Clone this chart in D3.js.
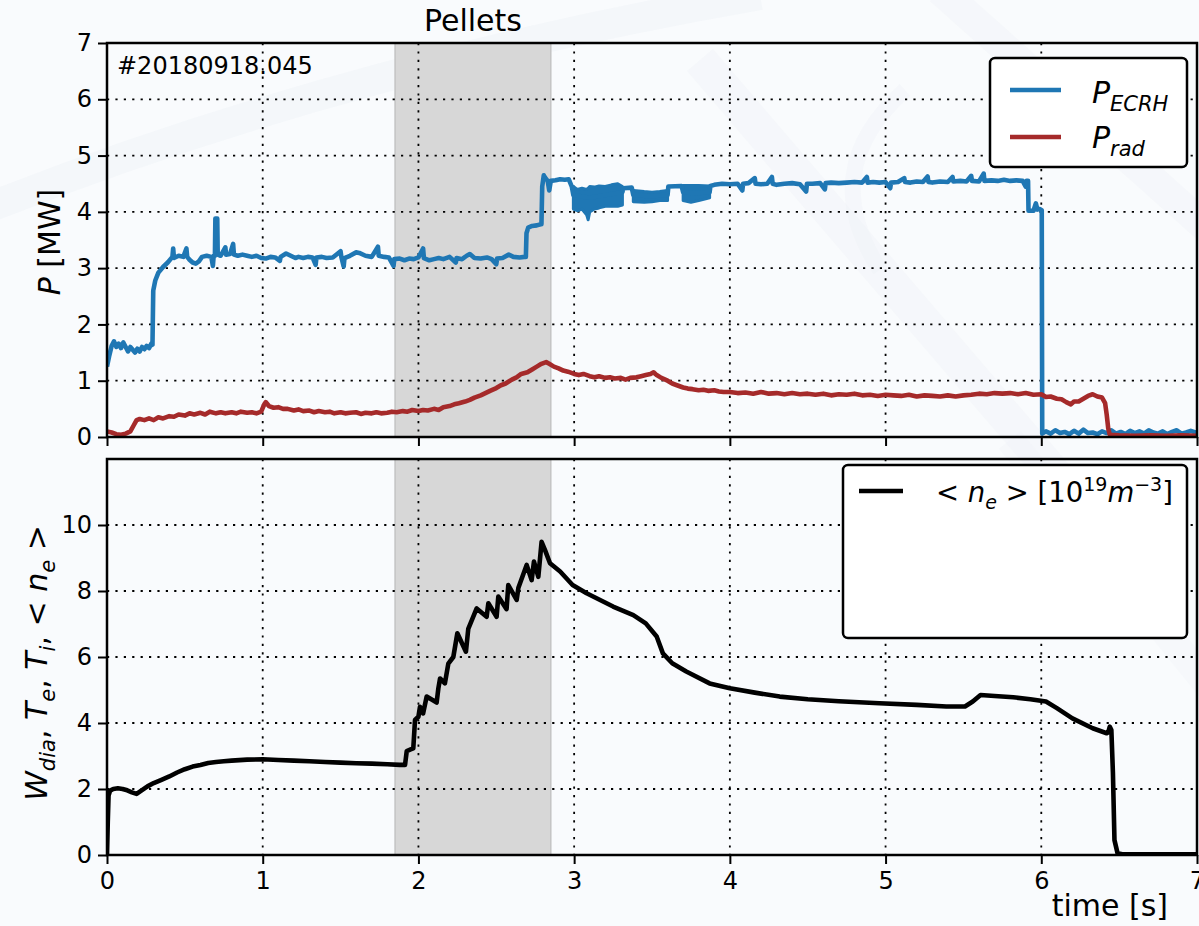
<!DOCTYPE html>
<html>
<head>
<meta charset="utf-8">
<script src="https://cdn.jsdelivr.net/npm/d3@7/dist/d3.min.js"></script>
<style>
  html, body { margin: 0; padding: 0; background: #f9fbfd; }
  svg { display: block; }
  text { font-family: "DejaVu Sans", sans-serif; fill: #000; }
</style>
</head>
<body>
<svg id="chart" width="1199" height="926"></svg>
<script>
// ---------------- data ----------------
// Heating power P_ECRH [MW]
const ecrhTime = [0,0.015,0.03,0.045,0.06,0.075,0.09,0.105,0.12,0.135,0.15,0.165,0.18,0.195,0.21,0.225,0.24,0.255,0.27,0.285,0.292,
  0.297,0.31,0.33,0.36,0.39,0.42,0.425,0.43,0.46,0.49,0.51,0.515,0.53,0.55,0.57,0.59,0.61,0.64,0.67,0.68,0.685,0.693,
  0.696,0.708,0.711,0.73,0.76,0.765,0.79,0.81,0.815,0.84,0.87,0.9,0.93,0.96,0.99,1.02,1.05,1.08,1.11,1.115,1.15,1.18,
  1.21,1.23,1.26,1.29,1.32,1.34,1.345,1.38,1.41,1.45,1.5,1.505,1.52,1.525,1.56,1.6,1.62,1.66,1.7,1.74,1.745,1.78,1.81,
  1.84,1.845,1.88,1.91,1.94,1.97,2.0,2.03,2.035,2.07,2.1,2.13,2.16,2.2,2.24,2.245,2.28,2.31,2.33,2.36,2.4,2.44,2.47,
  2.5,2.505,2.54,2.58,2.61,2.65,2.68,2.69,2.694,2.705,2.73,2.76,2.785,2.79,2.795,2.805,2.815,2.83,2.84,2.85,2.88,2.91,
  2.94,2.965,2.985,2.995,3.1,3.2,3.31,3.315,3.37,3.38,3.49,3.6,3.605,3.69,3.7,3.78,3.87,3.875,3.9,3.95,4.0,4.05,4.08,
  4.085,4.12,4.16,4.165,4.2,4.24,4.27,4.275,4.3,4.35,4.4,4.45,4.49,4.495,4.53,4.58,4.61,4.615,4.65,4.7,4.75,4.8,4.85,
  4.88,4.885,4.92,4.96,5.0,5.03,5.035,5.08,5.12,5.125,5.16,5.2,5.24,5.27,5.275,5.3,5.35,5.4,5.43,5.435,5.48,5.52,5.55,
  5.555,5.6,5.63,5.635,5.68,5.72,5.76,5.8,5.84,5.88,5.9,5.905,5.915,5.918,5.95,5.965,5.975,5.99,6.003,
  6.006,6.03,6.06,6.09,6.12,6.15,6.18,6.21,6.24,6.27,6.3,6.33,6.36,6.39,6.42,6.45,6.48,6.51,6.54,6.57,6.6,6.63,6.66,
  6.69,6.72,6.75,6.78,6.81,6.84,6.87,6.9,6.93,6.96,7.0];
const ecrhPower = [1.25,1.45,1.62,1.7,1.6,1.66,1.58,1.68,1.6,1.52,1.6,1.55,1.5,1.57,1.52,1.6,1.56,1.62,1.58,1.66,1.64,
  2.6,2.78,2.92,3.02,3.1,3.2,3.35,3.18,3.22,3.2,3.35,3.2,3.15,3.1,3.08,3.12,3.2,3.22,3.2,3.04,3.22,3.22,
  3.88,3.88,3.24,3.22,3.37,3.24,3.25,3.43,3.24,3.22,3.24,3.22,3.2,3.22,3.18,3.17,3.2,3.19,3.13,3.2,3.26,3.22,
  3.18,3.2,3.18,3.2,3.19,3.06,3.19,3.2,3.18,3.19,3.3,3.2,3.03,3.18,3.22,3.28,3.27,3.22,3.2,3.38,3.22,3.2,3.19,
  3.04,3.16,3.17,3.14,3.17,3.16,3.19,3.35,3.18,3.14,3.16,3.18,3.16,3.2,3.1,3.18,3.16,3.22,3.25,3.18,3.17,3.19,3.16,
  3.07,3.17,3.18,3.24,3.2,3.19,3.2,3.2,3.62,3.72,3.75,3.76,3.78,3.78,4.45,4.65,4.6,4.55,4.38,4.55,4.56,4.58,
  4.57,4.58,4.45,4.3,4.25,4.3,4.35,4.42,4.43,4.3,4.28,4.3,4.45,4.46,4.35,4.33,4.35,4.46,4.48,4.5,4.49,4.5,4.38,
  4.5,4.51,4.6,4.5,4.49,4.5,4.62,4.5,4.48,4.5,4.51,4.49,4.36,4.5,4.5,4.51,4.4,4.51,4.52,4.51,4.52,4.53,4.52,
  4.62,4.52,4.53,4.52,4.53,4.42,4.52,4.53,4.6,4.53,4.52,4.54,4.53,4.63,4.53,4.52,4.54,4.53,4.62,4.54,4.55,4.54,4.64,
  4.55,4.54,4.68,4.55,4.56,4.55,4.57,4.55,4.56,4.55,4.45,4.55,4.55,4.02,4.02,4.15,4.04,4.05,4.03,
  0.06,0.1,0.06,0.12,0.07,0.09,0.05,0.11,0.06,0.13,0.07,0.08,0.05,0.1,0.07,0.12,0.06,0.09,0.05,0.11,0.07,0.1,0.06,
  0.12,0.08,0.06,0.1,0.05,0.09,0.12,0.06,0.08,0.11,0.07];

// Fast-fluctuation envelopes of P_ECRH after the pellet phase
const ecrhBand1Time = [2.995,3.02,3.05,3.08,3.09,3.1,3.13,3.16,3.2,3.24,3.28,3.31];
const ecrhBand1Low  = [4.05,4.02,4.05,3.95,3.86,4.0,4.05,4.07,4.1,4.1,4.1,4.12];
const ecrhBand1High = [4.45,4.4,4.42,4.4,4.42,4.45,4.44,4.46,4.45,4.48,4.5,4.45];
const ecrhBand2Time = [3.38,3.45,3.5,3.55,3.6];
const ecrhBand2Low  = [4.18,4.17,4.18,4.2,4.2];
const ecrhBand2High = [4.38,4.36,4.35,4.36,4.38];
const ecrhBand3Time = [3.7,3.75,3.8,3.87];
const ecrhBand3Low  = [4.2,4.17,4.2,4.25];
const ecrhBand3High = [4.47,4.47,4.47,4.46];

// Radiated power P_rad [MW]
const radTime = [0,0.03,0.06,0.09,0.12,0.15,0.17,0.19,0.21,0.24,0.27,0.3,0.33,0.36,0.4,0.43,0.46,0.5,0.53,0.56,0.6,
  0.63,0.66,0.7,0.73,0.76,0.8,0.83,0.86,0.9,0.93,0.96,0.99,1.01,1.02,1.04,1.07,1.1,1.13,1.16,1.2,1.23,1.26,1.3,1.33,
  1.36,1.4,1.43,1.46,1.5,1.53,1.56,1.6,1.63,1.66,1.7,1.73,1.76,1.8,1.83,1.86,1.9,1.93,1.96,2.0,2.03,2.06,2.1,2.13,
  2.16,2.2,2.23,2.26,2.3,2.33,2.36,2.4,2.43,2.46,2.5,2.53,2.56,2.6,2.63,2.66,2.7,2.73,2.76,2.79,2.82,2.84,2.87,2.9,
  2.93,2.96,3.0,3.03,3.06,3.1,3.13,3.16,3.2,3.23,3.26,3.3,3.33,3.36,3.4,3.43,3.46,3.49,3.51,3.53,3.56,3.6,3.63,3.66,
  3.7,3.73,3.76,3.8,3.83,3.86,3.9,3.93,3.96,4.0,4.05,4.1,4.15,4.2,4.25,4.3,4.35,4.4,4.45,4.5,4.55,4.6,4.65,4.7,4.75,
  4.8,4.85,4.9,4.95,5.0,5.05,5.1,5.15,5.2,5.25,5.3,5.35,5.4,5.45,5.5,5.55,5.6,5.65,5.7,5.75,5.8,5.85,5.9,5.95,6.0,
  6.03,6.06,6.1,6.13,6.16,6.19,6.21,6.24,6.27,6.3,6.33,6.36,6.39,6.41,6.42,6.43,6.44,6.5,6.6,6.7,6.8,6.9,7.0];
const radPower = [0.1,0.08,0.05,0.04,0.06,0.1,0.2,0.3,0.32,0.3,0.33,0.3,0.35,0.33,0.37,0.36,0.4,0.38,0.42,0.4,0.43,
  0.4,0.45,0.42,0.44,0.42,0.44,0.42,0.45,0.43,0.44,0.42,0.45,0.58,0.62,0.55,0.52,0.53,0.5,0.5,0.47,0.49,0.46,0.47,0.44,
  0.46,0.44,0.45,0.42,0.44,0.42,0.43,0.44,0.41,0.43,0.42,0.44,0.42,0.43,0.45,0.44,0.46,0.45,0.48,0.46,0.48,0.47,0.5,0.48,
  0.53,0.55,0.58,0.6,0.63,0.66,0.7,0.74,0.78,0.82,0.87,0.92,0.95,1.02,1.06,1.12,1.15,1.2,1.25,1.3,1.33,1.3,1.25,1.22,
  1.18,1.16,1.12,1.1,1.12,1.08,1.06,1.08,1.05,1.06,1.04,1.05,1.02,1.05,1.06,1.08,1.1,1.12,1.15,1.1,1.05,1.0,0.95,0.92,
  0.88,0.86,0.85,0.83,0.84,0.82,0.83,0.81,0.8,0.8,0.78,0.79,0.77,0.8,0.77,0.78,0.76,0.78,0.76,0.77,0.75,0.77,0.74,0.76,0.75,
  0.77,0.74,0.75,0.73,0.75,0.74,0.73,0.75,0.72,0.74,0.73,0.72,0.74,0.72,0.74,0.75,0.77,0.76,0.78,0.77,0.78,0.76,0.78,0.75,0.76,
  0.71,0.72,0.68,0.67,0.62,0.58,0.63,0.63,0.68,0.73,0.76,0.72,0.7,0.6,0.4,0.15,0.04,0.03,0.02,0.03,0.02,0.03,0.02];

// Line-averaged electron density <n_e> [1e19 m^-3]
const neTime = [0,0.005,0.01,0.02,0.04,0.07,0.1,0.13,0.16,0.19,0.22,0.26,0.3,0.35,0.4,0.45,0.5,0.55,0.6,0.65,0.7,0.75,
  0.8,0.9,1.0,1.1,1.2,1.3,1.4,1.5,1.6,1.7,1.8,1.88,1.914,1.925,1.95,1.967,1.978,2.0,2.01,2.03,2.053,2.117,2.128,2.139,
  2.17,2.192,2.224,2.25,2.305,2.32,2.374,2.438,2.449,2.502,2.513,2.566,2.577,2.631,2.642,2.695,2.727,2.742,2.77,2.791,
  2.813,2.845,2.91,2.99,3.08,3.25,3.38,3.46,3.53,3.57,3.63,3.72,3.87,4.0,4.16,4.32,4.5,4.7,4.96,5.2,5.39,5.51,5.56,
  5.61,5.7,5.82,5.93,6.03,6.1,6.2,6.33,6.42,6.43,6.44,6.45,6.46,6.47,6.49,6.52,7.0];
const neValue = [0,1.0,1.8,1.95,2.0,2.02,2.0,1.96,1.9,1.85,1.95,2.08,2.18,2.28,2.38,2.5,2.6,2.68,2.73,2.79,2.82,2.84,
  2.86,2.89,2.9,2.88,2.86,2.84,2.82,2.8,2.78,2.77,2.75,2.73,2.73,3.15,3.2,3.23,4.09,4.19,4.49,4.29,4.8,4.62,5.05,5.35,
  5.2,5.8,6.0,6.72,6.16,6.85,7.47,7.22,7.63,7.22,7.83,7.45,8.18,7.73,8.1,8.79,8.33,8.89,8.43,9.49,
  9.24,8.84,8.59,8.18,7.93,7.53,7.27,7.02,6.62,6.11,5.81,5.56,5.2,5.05,4.92,4.8,4.72,4.66,4.6,4.55,4.5,4.5,4.65,
  4.85,4.82,4.78,4.72,4.65,4.45,4.14,3.84,3.69,3.72,3.89,3.79,2.5,0.45,0.05,0.02,0.02];

const pelletWindow = [1.85, 2.85];
const xTicks = [0, 1, 2, 3, 4, 5, 6, 7];
const yTicksTop = [0, 1, 2, 3, 4, 5, 6, 7];
const yTicksBottom = [0, 2, 4, 6, 8, 10];
const shotLabel = "#20180918.045";

// ---------------- layout ----------------
const svg = d3.select("#chart");
const L = 107, R = 1197;
const top1 = 43, bot1 = 437, top2 = 459, bot2 = 855;
const blue = "#1f77b4", red = "#a52a2a";

const x = d3.scaleLinear().domain([0, 7]).range([L, R]);
const yTop = d3.scaleLinear().domain([0, 7]).range([bot1, top1]);
const yBot = d3.scaleLinear().domain([0, 12]).range([bot2, top2]);

// faint background emblem
const wm = svg.append("g").attr("fill", "none").attr("stroke", "#eef2f7").attr("stroke-linecap", "butt");
wm.append("path").attr("d", "M -30 215 Q 330 70 760 -5").attr("stroke-width", 30).attr("opacity", 0.45);
wm.append("path").attr("d", "M 905 90 Q 815 170 880 270").attr("stroke-width", 16).attr("opacity", 0.35);
wm.append("path").attr("d", "M 700 60 L 1060 480").attr("stroke-width", 34).attr("opacity", 0.35);
wm.append("path").attr("d", "M 940 -10 L 1220 240").attr("stroke-width", 30).attr("opacity", 0.35);
wm.append("path").attr("d", "M 1010 440 L 1220 700").attr("stroke-width", 28).attr("opacity", 0.3);

const defs = svg.append("defs");
defs.append("clipPath").attr("id", "clipTop").append("rect")
  .attr("x", L).attr("y", top1).attr("width", R - L).attr("height", bot1 - top1);
defs.append("clipPath").attr("id", "clipBot").append("rect")
  .attr("x", L).attr("y", top2).attr("width", R - L).attr("height", bot2 - top2);

function panel(y, yTicks, topY, botY, showXLabels) {
  const g = svg.append("g");
  // pellet injection window
  g.append("rect")
    .attr("x", x(pelletWindow[0])).attr("y", topY)
    .attr("width", x(pelletWindow[1]) - x(pelletWindow[0])).attr("height", botY - topY)
    .attr("fill", "#d7d7d7")
    .attr("stroke", "#c4c4c4").attr("stroke-width", 1.5);
  // grid
  const grid = g.append("g").attr("stroke", "#000").attr("stroke-width", 1.8).attr("stroke-dasharray", "2.2,6.2");
  xTicks.forEach(t => {
    if (t === 0 || t === 7) return;
    grid.append("line").attr("x1", x(t)).attr("x2", x(t)).attr("y1", topY).attr("y2", botY);
  });
  yTicks.forEach(v => {
    if (v === 0) return;
    grid.append("line").attr("x1", L).attr("x2", R).attr("y1", y(v)).attr("y2", y(v));
  });
  // axes
  const ax = d3.axisBottom(x).tickValues(xTicks).tickSize(9).tickPadding(8)
    .tickFormat(showXLabels ? d3.format("d") : () => "");
  const axG = g.append("g").attr("transform", `translate(0,${botY})`).call(ax);
  const ay = d3.axisLeft(y).tickValues(yTicks).tickSize(9).tickPadding(6).tickFormat(d3.format("d"));
  const ayG = g.append("g").attr("transform", `translate(${L},0)`).call(ay);
  [axG, ayG].forEach(a => {
    a.select(".domain").remove();
    a.selectAll(".tick line").attr("stroke", "#000").attr("stroke-width", 2);
    a.selectAll(".tick text").attr("font-size", 24).attr("font-family", "DejaVu Sans").attr("fill", "#000");
  });
  return g;
}

const gTop = panel(yTop, yTicksTop, top1, bot1, false);
const gBot = panel(yBot, yTicksBottom, top2, bot2, true);

// top panel: powers
const lineTop = d3.line().x(d => x(d[0])).y(d => yTop(d[1]));
const areaTop = d3.area().x(d => x(d[0])).y0(d => yTop(d[1])).y1(d => yTop(d[2]));
const plotTop = gTop.append("g").attr("clip-path", "url(#clipTop)");
[[ecrhBand1Time, ecrhBand1Low, ecrhBand1High],
 [ecrhBand2Time, ecrhBand2Low, ecrhBand2High],
 [ecrhBand3Time, ecrhBand3Low, ecrhBand3High]].forEach(([t, lo, hi]) => {
  plotTop.append("path").datum(t.map((v, i) => [v, lo[i], hi[i]]))
    .attr("d", areaTop).attr("fill", blue).attr("stroke", blue).attr("stroke-width", 3).attr("stroke-linejoin", "round");
});
plotTop.append("path").datum(ecrhTime.map((t, i) => [t, ecrhPower[i]]))
  .attr("d", lineTop).attr("fill", "none").attr("stroke", blue).attr("stroke-width", 4.6).attr("stroke-linejoin", "round");
plotTop.append("path").datum(radTime.map((t, i) => [t, radPower[i]]))
  .attr("d", lineTop).attr("fill", "none").attr("stroke", red).attr("stroke-width", 4.6).attr("stroke-linejoin", "round");

// bottom panel: density
const lineBot = d3.line().x(d => x(d[0])).y(d => yBot(d[1]));
gBot.append("g").attr("clip-path", "url(#clipBot)")
  .append("path").datum(neTime.map((t, i) => [t, neValue[i]]))
  .attr("d", lineBot).attr("fill", "none").attr("stroke", "#000").attr("stroke-width", 4.6).attr("stroke-linejoin", "round");

// frames
[[top1, bot1], [top2, bot2]].forEach(([a, b]) => {
  svg.append("rect").attr("x", L).attr("y", a).attr("width", R - L).attr("height", b - a)
    .attr("fill", "none").attr("stroke", "#000").attr("stroke-width", 2.5);
});

// rich text helper: parts = [{t, it, sub, sup}]
function rich(sel, parts, size) {
  const small = Math.round(size * 0.7);
  let shift = 0;
  parts.forEach(p => {
    const target = p.sub ? size * 0.25 : p.sup ? -size * 0.4 : 0;
    const ts = sel.append("tspan").text(p.t)
      .attr("font-size", (p.sub || p.sup) ? small : size)
      .attr("dy", target - shift);
    if (p.it) ts.attr("font-style", "italic");
    shift = target;
  });
}

// annotations
svg.append("text").attr("x", 117).attr("y", 74).attr("font-size", 24).text(shotLabel);
svg.append("text").attr("x", x((pelletWindow[0] + pelletWindow[1]) / 2)).attr("y", 31)
  .attr("text-anchor", "middle").attr("font-family", "Liberation Sans, Arial, sans-serif")
  .attr("font-size", 30).text("Pellets");
svg.append("text").attr("x", 1168).attr("y", 916).attr("text-anchor", "end")
  .attr("font-family", "Liberation Sans, Arial, sans-serif").attr("font-size", 30).text("time [s]");

// y labels
const yl1 = svg.append("text").attr("transform", `translate(60,${(top1 + bot1) / 2 + 2}) rotate(-90)`)
  .attr("text-anchor", "middle");
rich(yl1, [{t: "P", it: true}, {t: " [MW]"}], 30);
const yl2 = svg.append("text").attr("transform", `translate(47,${663}) rotate(-90)`)
  .attr("text-anchor", "middle");
rich(yl2, [{t: "W", it: true}, {t: "dia", it: true, sub: true}, {t: ", "}, {t: "T", it: true}, {t: "e", it: true, sub: true},
  {t: ", "}, {t: "T", it: true}, {t: "i", it: true, sub: true}, {t: ",  < "}, {t: "n", it: true},
  {t: "e", it: true, sub: true}, {t: " >"}], 30);

// legends
const lg1 = svg.append("g");
lg1.append("rect").attr("x", 990).attr("y", 58).attr("width", 197).attr("height", 109).attr("rx", 5)
  .attr("fill", "#fff").attr("stroke", "#000").attr("stroke-width", 2.5);
lg1.append("line").attr("x1", 1010).attr("x2", 1061).attr("y1", 90).attr("y2", 90).attr("stroke", blue).attr("stroke-width", 4.5);
lg1.append("line").attr("x1", 1010).attr("x2", 1061).attr("y1", 137).attr("y2", 137).attr("stroke", red).attr("stroke-width", 4.5);
rich(lg1.append("text").attr("x", 1092).attr("y", 103), [{t: "P", it: true}, {t: "ECRH", it: true, sub: true}], 30);
rich(lg1.append("text").attr("x", 1092).attr("y", 148), [{t: "P", it: true}, {t: "rad", it: true, sub: true}], 30);

const lg2 = svg.append("g");
lg2.append("rect").attr("x", 843).attr("y", 465).attr("width", 344).attr("height", 173).attr("rx", 5)
  .attr("fill", "#fff").attr("stroke", "#000").attr("stroke-width", 2.5);
lg2.append("line").attr("x1", 859).attr("x2", 903).attr("y1", 491).attr("y2", 491).attr("stroke", "#000").attr("stroke-width", 4.5);
rich(lg2.append("text").attr("x", 936).attr("y", 502),
  [{t: "< "}, {t: "n", it: true}, {t: "e", it: true, sub: true}, {t: " >  [10"}, {t: "19", sup: true},
   {t: "m", it: true}, {t: "−3", sup: true}, {t: "]"}], 27.5);
</script>
</body>
</html>
